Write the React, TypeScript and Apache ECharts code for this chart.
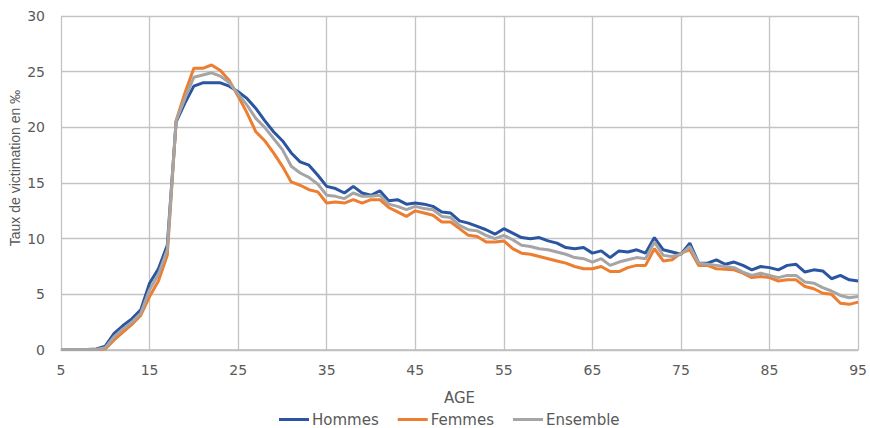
import React, { useEffect, useRef } from "react";
import * as echarts from "echarts";

const ages: number[] = [];
for (let a = 5; a <= 95; a++) ages.push(a);

const hommes = [
  0.05, 0.05, 0.05, 0.05, 0.1, 0.35,
  1.5, 2.2, 2.8, 3.6, 6.0, 7.3, 9.4, 20.5, 22.2, 23.7,
  24.0, 24.0, 24.0, 23.7, 23.2, 22.6, 21.7, 20.6, 19.6, 18.8,
  17.7, 16.9, 16.6, 15.7, 14.7, 14.5, 14.1, 14.7, 14.1, 13.9,
  14.3, 13.4, 13.5, 13.1, 13.2, 13.1, 12.9, 12.4, 12.3, 11.6,
  11.4, 11.1, 10.8, 10.4, 10.9, 10.5, 10.1, 10.0, 10.1, 9.8,
  9.6, 9.2, 9.1, 9.2, 8.7, 8.9, 8.3, 8.9, 8.8, 9.0,
  8.7, 10.1, 9.0, 8.8, 8.6, 9.6, 7.8, 7.8, 8.1, 7.7,
  7.9, 7.6, 7.2, 7.5, 7.4, 7.2, 7.6, 7.7, 7.0, 7.2,
  7.1, 6.4, 6.7, 6.3, 6.2,
];

const femmes = [
  0.05, 0.05, 0.05, 0.05, 0.05, 0.1,
  0.9, 1.6, 2.3, 3.1, 4.8, 6.2, 8.5, 20.6, 23.1, 25.3,
  25.3, 25.6, 25.1, 24.2, 22.8, 21.3, 19.6, 18.8, 17.7, 16.5,
  15.1, 14.8, 14.4, 14.2, 13.2, 13.3, 13.2, 13.5, 13.2, 13.5,
  13.5, 12.8, 12.4, 12.0, 12.5, 12.3, 12.1, 11.5, 11.5, 10.9,
  10.3, 10.2, 9.7, 9.7, 9.8, 9.1, 8.7, 8.6, 8.4, 8.2,
  8.0, 7.8, 7.5, 7.3, 7.3, 7.5, 7.05, 7.05, 7.4, 7.6,
  7.6, 9.1, 8.0, 8.1, 8.7, 9.0, 7.6, 7.6, 7.3, 7.25,
  7.2, 6.9, 6.5, 6.6, 6.5, 6.2, 6.3, 6.3, 5.7, 5.5,
  5.1, 5.0, 4.2, 4.1, 4.3,
];

const ensemble = [
  0.05, 0.05, 0.05, 0.05, 0.05, 0.2,
  1.2, 1.9, 2.5, 3.3, 5.4, 6.8, 9.0, 20.6, 22.6, 24.5,
  24.7, 24.9, 24.6, 24.0, 23.0, 22.0, 20.8, 20.0, 19.0, 18.0,
  16.5, 15.9, 15.5, 14.9, 13.9, 13.8, 13.6, 14.1, 13.8, 13.8,
  13.9, 13.1, 12.9, 12.6, 12.9, 12.7, 12.6, 12.0, 11.9, 11.2,
  10.8, 10.7, 10.3, 10.0, 10.3, 9.9, 9.4, 9.3, 9.1, 9.0,
  8.8, 8.6, 8.3, 8.2, 7.9, 8.2, 7.6, 7.9, 8.1, 8.3,
  8.2, 9.7, 8.5, 8.4, 8.6, 9.3, 7.8, 7.7, 7.6, 7.5,
  7.4, 7.0, 6.7, 6.9, 6.7, 6.5, 6.7, 6.7, 6.1, 6.0,
  5.6, 5.3, 4.9, 4.7, 4.8,
];

const seriesNames = ["Hommes", "Femmes", "Ensemble"];
const seriesColors = ["#2B55A0", "#ED7D31", "#A5A5A5"];
const xTitle = "AGE";
const yTitle = "Taux de victimation en ‰";

const TEXT = "#595959";
const GRID = "#c4c4c4";
const FONT = "'DejaVu Sans', sans-serif";

export default function App() {
  const ref = useRef<HTMLDivElement>(null);
  useEffect(() => {
    if (!ref.current) return;
    const chart = echarts.init(ref.current, undefined, { renderer: "svg" });
    const all = [hommes, femmes, ensemble];
    chart.setOption({
      animation: false,
      backgroundColor: "#ffffff",
      grid: { left: 61, right: 10, top: 16, bottom: 78, containLabel: false },
      xAxis: {
        type: "value",
        min: 5,
        max: 95,
        interval: 10,
        name: xTitle,
        nameLocation: "middle",
        nameGap: 40,
        nameTextStyle: { color: TEXT, fontSize: 15, fontFamily: FONT },
        axisLine: { show: true, lineStyle: { color: "#bcbcbc", width: 1.5 } },
        axisTick: { show: false },
        axisLabel: { color: TEXT, fontSize: 14, fontFamily: FONT, margin: 13 },
        splitLine: { show: true, lineStyle: { color: GRID, width: 1.3 } },
      },
      yAxis: {
        type: "value",
        min: 0,
        max: 30,
        interval: 5,
        axisLine: { show: false },
        axisTick: { show: false },
        axisLabel: { color: TEXT, fontSize: 14, fontFamily: FONT, margin: 16 },
        splitLine: { show: true, lineStyle: { color: GRID, width: 1.3 } },
      },
      legend: {
        left: 279,
        top: 412,
        padding: 0,
        icon: "rect",
        itemWidth: 30,
        itemHeight: 3,
        itemGap: 19,
        textStyle: {
          color: TEXT,
          fontSize: 15,
          lineHeight: 15,
          fontFamily: FONT,
          padding: [0, 0, 0, -2],
        },
        data: seriesNames,
      },
      graphic: [
        {
          type: "text",
          x: 15,
          y: 168,
          rotation: Math.PI / 2,
          style: {
            text: yTitle,
            fill: TEXT,
            fontSize: 14,
            fontFamily: "'Liberation Sans', sans-serif",
            align: "center",
            verticalAlign: "middle",
          },
        },
      ],
      series: seriesNames.map((name, i) => ({
        name,
        type: "line",
        data: ages.map((a, j) => [a, all[i][j]]),
        showSymbol: false,
        symbol: "none",
        lineStyle: { color: seriesColors[i], width: 3 },
        itemStyle: { color: seriesColors[i] },
      })),
    });
    return () => chart.dispose();
  }, []);
  return (
    <div
      ref={ref}
      style={{ position: "fixed", left: 0, top: 0, width: 870, height: 428 }}
    />
  );
}
